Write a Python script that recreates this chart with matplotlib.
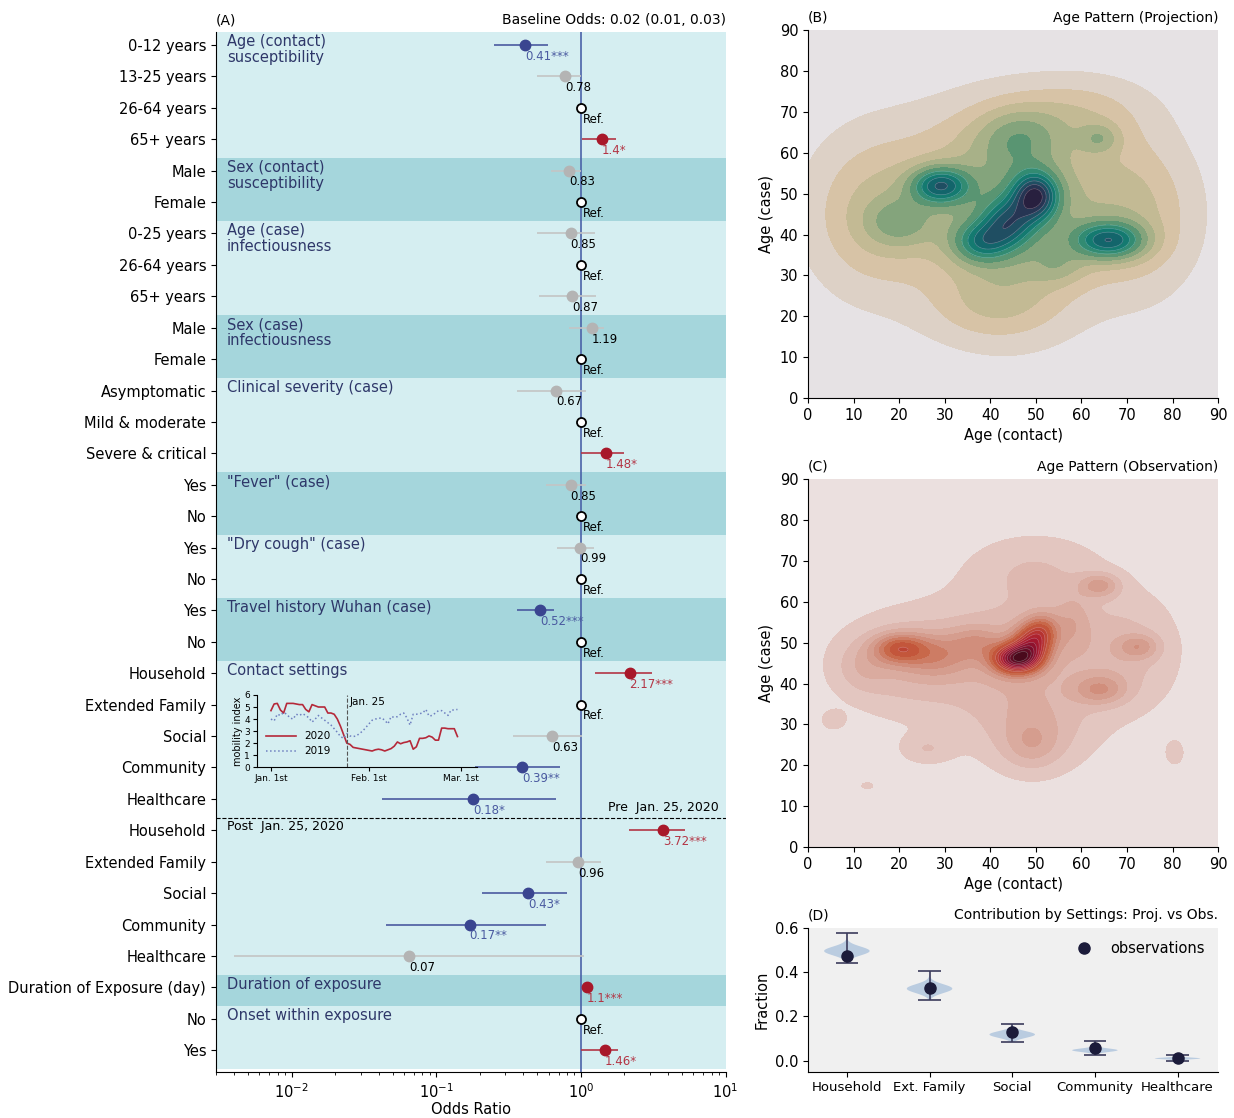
import numpy as np
import matplotlib
matplotlib.use("Agg")
import matplotlib.pyplot as plt
from matplotlib.colors import LinearSegmentedColormap

# ---------------- data: panel A (odds ratios) ----------------
row_labels = ["0-12 years", "13-25 years", "26-64 years", "65+ years",
              "Male", "Female",
              "0-25 years", "26-64 years", "65+ years",
              "Male", "Female",
              "Asymptomatic", "Mild & moderate", "Severe & critical",
              "Yes", "No",
              "Yes", "No",
              "Yes", "No",
              "Household", "Extended Family", "Social", "Community", "Healthcare",
              "Household", "Extended Family", "Social", "Community", "Healthcare",
              "Duration of Exposure (day)",
              "No", "Yes"]
odds = [0.41, 0.78, 1.0, 1.4, 0.83, 1.0, 0.85, 1.0, 0.87, 1.19, 1.0,
        0.67, 1.0, 1.48, 0.85, 1.0, 0.99, 1.0, 0.52, 1.0,
        2.17, 1.0, 0.63, 0.39, 0.18, 3.72, 0.96, 0.43, 0.17, 0.065,
        1.1, 1.0, 1.46]
ci_low = [0.25, 0.50, np.nan, 1.02, 0.62, np.nan, 0.50, np.nan, 0.51, 0.83, np.nan,
          0.36, np.nan, 1.0, 0.57, np.nan, 0.68, np.nan, 0.36, np.nan,
          1.26, np.nan, 0.34, 0.184, 0.042, 2.15, 0.57, 0.207, 0.045, 0.004,
          1.08, np.nan, 1.0]
ci_high = [0.59, 1.0, np.nan, 1.74, 1.0, np.nan, 1.26, np.nan, 1.28, 1.44, np.nan,
           1.08, np.nan, 1.99, 1.08, np.nan, 1.23, np.nan, 0.655, np.nan,
           3.1, np.nan, 1.02, 0.72, 0.67, 5.2, 1.37, 0.80, 0.574, 1.05,
           1.12, np.nan, 1.81]
value_labels = ["0.41***", "0.78", "Ref.", "1.4*", "0.83", "Ref.", "0.85", "Ref.", "0.87",
                "1.19", "Ref.", "0.67", "Ref.", "1.48*", "0.85", "Ref.", "0.99", "Ref.",
                "0.52***", "Ref.", "2.17***", "Ref.", "0.63", "0.39**", "0.18*",
                "3.72***", "0.96", "0.43*", "0.17**", "0.07", "1.1***", "Ref.", "1.46*"]
group_names = ["Age (contact)\nsusceptibility", "Sex (contact)\nsusceptibility",
               "Age (case)\ninfectiousness", "Sex (case)\ninfectiousness",
               "Clinical severity (case)", "\"Fever\" (case)", "\"Dry cough\" (case)",
               "Travel history Wuhan (case)", "Contact settings",
               "Duration of exposure", "Onset within exposure"]
group_first = [0, 4, 6, 9, 11, 14, 16, 18, 20, 30, 31]
group_last = [3, 5, 8, 10, 13, 15, 17, 19, 29, 30, 32]

# mobility inset (days since Jan 1st, 2020)
mob_2020 = [4.7, 5.25, 5.3, 4.75, 4.5, 5.3, 5.3, 5.3, 5.25, 5.2, 5.2, 4.8, 4.6, 5.2, 5.1,
            5.0, 5.0, 5.0, 4.5, 4.5, 4.4, 4.0, 3.4, 2.7, 2.0, 1.9, 1.65, 1.6, 1.55, 1.5,
            1.45, 1.4, 1.35, 1.45, 1.5, 1.45, 1.35, 1.45, 1.55, 1.75, 2.1, 1.95, 2.05, 2.1,
            2.2, 1.5, 1.7, 2.4, 2.4, 2.45, 2.6, 2.5, 2.25, 2.25, 3.25, 3.25, 3.2, 3.2, 3.2, 2.55]
mob_2019 = [4.0, 3.85, 4.4, 4.3, 4.55, 4.4, 4.1, 4.0, 4.4, 4.3, 4.45, 4.3, 4.1, 3.75, 4.0,
            4.3, 4.1, 3.9, 3.7, 3.5, 3.2, 2.9, 2.55, 2.4, 2.8, 2.6, 2.55, 2.6, 2.8, 3.0,
            3.3, 3.6, 3.9, 4.0, 4.05, 4.1, 3.9, 3.6, 4.2, 4.15, 4.2, 4.4, 4.5, 4.1, 3.5,
            4.4, 4.4, 4.45, 4.5, 4.8, 4.25, 4.3, 4.5, 4.7, 4.7, 4.5, 4.3, 4.75, 4.75, 4.8]
mob_ticks = [0, 31, 60]
mob_ticklabels = ["Jan. 1st", "Feb. 1st", "Mar. 1st"]
lockdown_day = 24

# ---------------- data: panel B/C (density bumps) ----------------
# projection: broad plateau bumps first, then the local peaks
proj_x = [15, 45, 72, 45, 40, 60, 45, 50, 44, 38, 29, 66, 64, 20, 46, 55]
proj_y = [45, 38, 45, 62, 22, 70, 45, 49.5, 43, 38, 52, 38.5, 63.5, 43, 64, 32]
proj_sx = [10, 12, 9, 14, 10, 10, 14, 3.5, 4, 4.5, 4.5, 5.5, 3, 5, 6, 4]
proj_sy = [13, 14, 13, 9, 6, 6, 10, 4, 4, 3.5, 3.2, 3.2, 2.5, 4, 5, 3]
proj_w = [0.2, 0.2, 0.18, 0.17, 0.1, 0.1, 0.15, 0.5, 0.3, 0.3, 0.45, 0.45, 0.14, 0.15, 0.14, 0.1]

obs_x = [20, 45, 70, 50, 50, 45.5, 49, 51.5, 20, 28, 12, 64, 72.5, 64, 49, 26, 5.5, 13, 80.5, 37, 58]
obs_y = [45, 45, 48, 28, 68, 46, 49.5, 53, 48.6, 47, 44, 64, 49, 38.5, 25, 24, 31, 15, 23, 50, 55]
obs_sx = [10, 14, 8, 8, 10, 3.5, 3, 2.5, 4, 5, 4, 3, 3, 4, 4, 4, 2, 2, 2, 4, 3]
obs_sy = [8, 12, 10, 7, 6, 2.5, 3.5, 3, 2.5, 3.5, 4, 2, 2, 2.5, 4, 2.5, 1.8, 1.2, 3, 3, 5]
obs_w = [0.13, 0.16, 0.11, 0.11, 0.09, 0.7, 0.45, 0.25, 0.35, 0.18, 0.08, 0.2, 0.17, 0.2,
         0.1, 0.09, 0.07, 0.05, 0.06, 0.15, 0.12]

# ---------------- data: panel D ----------------
settings = ["Household", "Ext. Family", "Social", "Community", "Healthcare"]
proj_center = [0.495, 0.325, 0.118, 0.047, 0.010]
proj_spread = [0.02, 0.02, 0.015, 0.008, 0.004]
proj_min = [0.442, 0.275, 0.085, 0.025, 0.0]
proj_max = [0.578, 0.403, 0.167, 0.088, 0.024]
obs_fraction = [0.472, 0.327, 0.128, 0.055, 0.013]

# colours
light_band = "#d5eef1"
dark_band = "#a5d6dc"
navy_text = "#2e3769"
blue = "#3a4590"
red = "#a8182a"
grey = "#b4b4b4"

fig = plt.figure(figsize=(12.34, 11.18), dpi=100)

# ================= panel A =================
ax = fig.add_axes([0.175, 0.041, 0.413, 0.930])
n = len(row_labels)
for i, (first, last) in enumerate(zip(group_first, group_last)):
    col = light_band if i % 2 == 0 else dark_band
    ax.axhspan(first - 0.4, last + 0.6, color=col, zorder=0, lw=0)
    ax.text(0.00356, first - 0.34, group_names[i], color=navy_text, fontsize=10.5,
            va="top", ha="left", linespacing=1.08, zorder=2)

ax.axvline(1, color="#4a62a8", lw=1.2, zorder=1)
ax.axhline(24.6, color="black", ls="--", lw=0.8, zorder=1)
ax.text(9.0, 24.28, "Pre  Jan. 25, 2020", fontsize=9, ha="right", va="center")
ax.text(0.00356, 24.88, "Post  Jan. 25, 2020", fontsize=9, ha="left", va="center")

for i in range(n):
    lab = value_labels[i]
    if lab == "Ref.":
        ax.plot(odds[i], i, "o", ms=6.5, mfc="white", mec="black", mew=1.3, zorder=4)
        ax.text(odds[i] * 1.03, i + 0.36, lab, fontsize=8.5, va="center", ha="left")
        continue
    if "*" in lab:
        pc = red if odds[i] > 1 else blue
        lc = "#b33545" if odds[i] > 1 else "#4a5aa0"
        tc = lc
    else:
        pc = grey
        lc = "#c4c4c4"
        tc = "black"
    ax.hlines(i, ci_low[i], ci_high[i], color=lc, lw=1.2, zorder=2)
    ax.plot(odds[i], i, "o", ms=7.5, color=pc, zorder=3)
    ax.text(odds[i], i + 0.36, lab, fontsize=8.5, va="center", ha="left", color=tc, zorder=5)

ax.set_xscale("log")
ax.set_xlim(0.003, 10)
ax.set_ylim(n - 0.3, -0.4)
ax.set_yticks(range(n))
ax.set_yticklabels(row_labels, fontsize=10.5)
ax.tick_params(axis="x", labelsize=10.5)
ax.set_xlabel("Odds Ratio", fontsize=10.5, labelpad=1)
ax.spines["top"].set_visible(False)
ax.spines["right"].set_visible(False)
ax.set_title("(A)", loc="left", fontsize=10)
ax.set_title("Baseline Odds: 0.02 (0.01, 0.03)", loc="right", fontsize=10)

# mobility inset
ins = fig.add_axes([0.2083, 0.3137, 0.1783, 0.0647])
ins.patch.set_alpha(0)
days = np.arange(len(mob_2020))
ins.plot(days, mob_2020, color="#b5293a", lw=1.2, label="2020")
ins.plot(days, mob_2019, color="#6f80c0", lw=1.1, ls=":", label="2019")
ins.axvline(lockdown_day, color="#555555", ls="--", lw=0.8)
ins.text(lockdown_day + 0.8, 5.85, "Jan. 25", fontsize=7.5, va="top")
ins.set_xlim(-4.4, 65.2)
ins.set_ylim(0, 6)
ins.set_yticks(range(7))
ins.set_xticks(mob_ticks)
ins.set_xticklabels(mob_ticklabels)
ins.tick_params(labelsize=6.5, length=3, pad=2)
ins.set_ylabel("mobility index", fontsize=7, labelpad=1)
ins.spines["top"].set_visible(False)
ins.spines["right"].set_visible(False)
ins.legend(loc="lower left", bbox_to_anchor=(0.0, 0.02), frameon=False, fontsize=7.5,
           handlelength=2.8)


# ================= panels B and C =================
def density(xs, ys, sxs, sys_, ws, gx, gy):
    z = np.zeros_like(gx)
    for cx, cy, sx, sy, w in zip(xs, ys, sxs, sys_, ws):
        z += w * np.exp(-0.5 * (((gx - cx) / sx) ** 2 + ((gy - cy) / sy) ** 2))
    return z / z.max()


gx, gy = np.meshgrid(np.linspace(0, 90, 300), np.linspace(0, 90, 300))

cmap_b = LinearSegmentedColormap.from_list(
    "proj", ["#ddd1c6", "#d5c09e", "#b8b68e", "#93aa80", "#5d9672", "#2e8a72",
             "#0a746f", "#1a5a68", "#263a58", "#28203f"])
cmap_c = LinearSegmentedColormap.from_list(
    "obs", ["#e3c6c0", "#d9a99d", "#d08a77", "#c6603f", "#b93a30", "#a8182f",
            "#7c0d2c", "#4a0a1c"])

panels = [
    ([0.6548, 0.644, 0.3323, 0.329], density(proj_x, proj_y, proj_sx, proj_sy, proj_w, gx, gy),
     cmap_b, "#e6e2e4", 12, 0.05, "(B)", "Age Pattern (Projection)"),
    ([0.6548, 0.2424, 0.3323, 0.329], density(obs_x, obs_y, obs_sx, obs_sy, obs_w, gx, gy),
     cmap_c, "#ebe0df", 16, 0.04, "(C)", "Age Pattern (Observation)"),
]
for rect, z, cmap, bg, nlev, low, tag, title in panels:
    axk = fig.add_axes(rect)
    axk.set_facecolor(bg)
    levels = np.linspace(low, 1.0001, nlev + 1)
    cols = [cmap(v) for v in np.linspace(0, 1, nlev)]
    axk.contourf(gx, gy, z, levels=levels, colors=cols)
    axk.contour(gx, gy, z, levels=levels[nlev // 2:-1], colors="white", linewidths=0.4, alpha=0.35)
    axk.set_xlim(0, 90)
    axk.set_ylim(0, 90)
    axk.set_xticks(range(0, 91, 10))
    axk.set_yticks(range(0, 91, 10))
    axk.tick_params(labelsize=10.5)
    axk.set_xlabel("Age (contact)", fontsize=10.5)
    axk.set_ylabel("Age (case)", fontsize=10.5)
    axk.spines["top"].set_visible(False)
    axk.spines["right"].set_visible(False)
    axk.set_title(tag, loc="left", fontsize=10)
    axk.set_title(title, loc="right", fontsize=10)

# ================= panel D =================
axd = fig.add_axes([0.6548, 0.0414, 0.3323, 0.1288])
axd.set_facecolor("#f0f0f0")
vpstats = []
for c, s, lo, hi in zip(proj_center, proj_spread, proj_min, proj_max):
    coords = np.linspace(lo, hi, 100)
    vals = np.exp(-0.5 * ((coords - c) / s) ** 2)
    vpstats.append({"coords": coords, "vals": vals, "mean": c, "median": c,
                    "min": lo, "max": hi, "quantiles": []})
pos = np.arange(len(settings))
parts = axd.violin(vpstats, positions=pos, widths=0.55, showextrema=True)
for body in parts["bodies"]:
    body.set_facecolor("#b4c8df")
    body.set_edgecolor("none")
    body.set_alpha(0.9)
for key in ["cmins", "cmaxes", "cbars"]:
    parts[key].set_color("#3b3b5c")
    parts[key].set_linewidth(1.2)
axd.plot(pos, obs_fraction, "o", color="#1b1b3a", ms=8, ls="none", label="observations", zorder=5)
axd.legend(loc="upper right", frameon=False, fontsize=10.5)
axd.set_xlim(-0.47, 4.49)
axd.set_ylim(-0.05, 0.6)
axd.set_xticks(pos)
axd.set_xticklabels(settings, fontsize=9.5)
axd.set_yticks([0.0, 0.2, 0.4, 0.6])
axd.tick_params(axis="y", labelsize=10.5)
axd.set_ylabel("Fraction", fontsize=10.5)
axd.spines["top"].set_visible(False)
axd.spines["right"].set_visible(False)
axd.set_title("(D)", loc="left", fontsize=10)
axd.set_title("Contribution by Settings: Proj. vs Obs.", loc="right", fontsize=10)

fig.savefig("out.png", dpi=100)
